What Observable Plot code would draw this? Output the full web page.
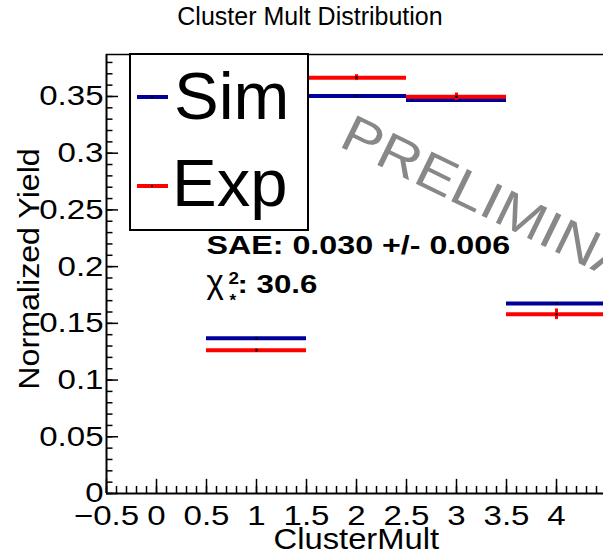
<!DOCTYPE html>
<html><head><meta charset="utf-8">
<script src="https://cdn.jsdelivr.net/npm/d3@7"></script>
<script src="https://cdn.jsdelivr.net/npm/@observablehq/plot@0.6"></script>
<style>
html,body{margin:0;padding:0;background:#fff;}
#wrap{position:relative;width:603px;height:554px;overflow:hidden;background:#fff;}
#title{height:40px;box-sizing:border-box;padding-top:4px;padding-left:17px;font:25px/25px "Liberation Sans",Arial,sans-serif;text-align:center;color:#000;white-space:nowrap;}
#chart svg{display:block;}
#legend{position:absolute;left:129px;top:53px;width:180px;height:178px;box-sizing:border-box;border:2px solid #000;background:#fff;}
.leg-line{position:absolute;left:137px;width:31px;height:4px;}
.leg-dot{position:absolute;left:151px;width:2px;height:2px;background:#000;}
.leg-text{position:absolute;font:67px/67px "Liberation Sans",Arial,sans-serif;color:#000;white-space:nowrap;}
</style>
</head><body>
<div id="wrap">
  <div id="title"></div>
  <div id="chart"></div>
  <div id="legend"></div>
  <div class="leg-line" id="leg-sim-line" style="top:95px"></div>
  <div class="leg-dot" style="top:96px"></div>
  <div class="leg-text" id="leg-sim-text" style="left:174px;top:62px"></div>
  <div class="leg-line" id="leg-exp-line" style="top:184px"></div>
  <div class="leg-dot" style="top:185px"></div>
  <div class="leg-text" id="leg-exp-text" style="left:172px;top:149px"></div>
</div>
<script>
// ---- data ----
const chartTitle = "Cluster Mult Distribution";
const xTitle = "ClusterMult";
const yTitle = "Normalized Yield";
const seriesNames = ["Sim", "Exp"];
const seriesColors = ["#000099", "#ff0000"];
const binCenter = [1, 2, 3, 4];
const binLow = [0.5, 1.5, 2.5, 3.5];
const binHigh = [1.5, 2.5, 3.5, 4.5];
const simYield = [0.1368, 0.3504, 0.3469, 0.1674];
const simError = [0.0008, 0.0008, 0.0008, 0.0008];
const expYield = [0.1262, 0.3666, 0.3498, 0.1580];
const expError = [0.0015, 0.0026, 0.0032, 0.0047];
const yTickValues = [0, 0.05, 0.1, 0.15, 0.2, 0.25, 0.3, 0.35];
const yTickLabels = ["0", "0.05", "0.1", "0.15", "0.2", "0.25", "0.3", "0.35"];
const xTickValues = [-0.5, 0, 0.5, 1, 1.5, 2, 2.5, 3, 3.5, 4];
const xTickLabels = ["\u22120.5", "0", "0.5", "1", "1.5", "2", "2.5", "3", "3.5", "4"];
const saeText = "SAE: 0.030 +/- 0.006";
const chiSymbol = "\u03c7";
const chiSup = "2";
const chiSub = "*";
const chiValue = ": 30.6";
const watermark = "PRELIMINARY";

const xDomain = [-0.5, 4.47];
const yDomain = [0, 0.387];

const rows = binCenter.map((c, i) => ({
  c, lo: binLow[i], hi: binHigh[i],
  sim: simYield[i], simErr: simError[i],
  exp: expYield[i], expErr: expError[i]
}));
const xMinor = d3.range(-5, 45).map(i => i / 10);
const yMinor = d3.range(0, 39).map(i => i / 100);

const FONT = '"Liberation Sans", Arial, sans-serif';
const BLUE = seriesColors[0], RED = seriesColors[1];

const chart = Plot.plot({
  width: 603,
  height: 514,
  marginLeft: 106,
  marginRight: 0,
  marginTop: 14,
  marginBottom: 61,
  style: {fontFamily: FONT, fontSize: "28px", color: "#000", background: "#fff"},
  x: {type: "linear", domain: xDomain},
  y: {type: "linear", domain: yDomain},
  marks: [
    // Sim histogram
    Plot.ruleY(rows, {y: "sim", x1: "lo", x2: "hi", stroke: BLUE, strokeWidth: 4, clip: true}),
    Plot.ruleX(rows, {x: "c", y1: d => d.sim - d.simErr, y2: d => d.sim + d.simErr, stroke: BLUE, strokeWidth: 3}),
    Plot.dot(rows, {x: "c", y: "sim", r: 1.3, fill: "#000", stroke: null}),
    // Exp histogram
    Plot.ruleY(rows, {y: "exp", x1: "lo", x2: "hi", stroke: RED, strokeWidth: 4, clip: true}),
    Plot.ruleX(rows, {x: "c", y1: d => d.exp - d.expErr, y2: d => d.exp + d.expErr, stroke: RED, strokeWidth: 3}),
    Plot.dot(rows, {x: "c", y: "exp", r: 1.3, fill: "#000", stroke: null}),
    // frame lines
    Plot.ruleX([xDomain[0]], {stroke: "#000", strokeWidth: 2}),
    Plot.ruleY([0], {stroke: "#000", strokeWidth: 2}),
    Plot.ruleY([yDomain[1]], {stroke: "#000", strokeWidth: 1.5}),
    // y ticks (inward)
    Plot.ruleY(yMinor, {y: d => d, x1: xDomain[0], x2: xDomain[0] + 0.065, stroke: "#000", strokeWidth: 1.5}),
    Plot.ruleY(yTickValues, {y: d => d, x1: xDomain[0], x2: xDomain[0] + 0.12, stroke: "#000", strokeWidth: 1.5}),
    // x ticks (inward)
    Plot.ruleX(xMinor, {x: d => d, y1: 0, y2: 0.0062, stroke: "#000", strokeWidth: 1.5}),
    Plot.ruleX(xTickValues, {x: d => d, y1: 0, y2: 0.0125, stroke: "#000", strokeWidth: 1.5}),
    // tick labels
    Plot.axisY({ticks: yTickValues, tickFormat: (d) => yTickLabels[yTickValues.indexOf(d)], tickSize: 0, tickPadding: 3, fontSize: 28, label: null}),
    Plot.axisX({ticks: xTickValues, tickFormat: (d) => xTickLabels[xTickValues.indexOf(d)], tickSize: 0, tickPadding: 12, fontSize: 28, label: null}),
    // axis titles
    Plot.text([xTitle], {text: d => d, frameAnchor: "bottom-left", dx: 167, dy: 55, textAnchor: "start", lineAnchor: "bottom", fontSize: 29, fill: "#000"}),
    Plot.text([yTitle], {text: d => d, frameAnchor: "left", dx: -68, dy: -5, rotate: -90, textAnchor: "middle", lineAnchor: "bottom", fontSize: 29, fill: "#000"}),
    // annotations
    Plot.text([saeText], {text: d => d, frameAnchor: "top-left", dx: 100, dy: 199, textAnchor: "start", lineAnchor: "bottom", fontSize: 26, fontWeight: "bold", fill: "#000"}),
    Plot.text([chiSymbol], {text: d => d, frameAnchor: "top-left", dx: 100, dy: 238, textAnchor: "start", lineAnchor: "bottom", fontSize: 33, fill: "#000"}),
    Plot.text([chiSup], {text: d => d, frameAnchor: "top-left", dx: 122, dy: 229, textAnchor: "start", lineAnchor: "bottom", fontSize: 16, fontWeight: "bold", fill: "#000"}),
    Plot.text([chiSub], {text: d => d, frameAnchor: "top-left", dx: 123, dy: 251, textAnchor: "start", lineAnchor: "bottom", fontSize: 17, fontWeight: "bold", fill: "#000"}),
    Plot.text([chiValue], {text: d => d, frameAnchor: "top-left", dx: 131, dy: 238, textAnchor: "start", lineAnchor: "bottom", fontSize: 26, fontWeight: "bold", fill: "#000"}),
    // watermark
    Plot.text([watermark], {text: d => d, frameAnchor: "top-left", dx: 231, dy: 91, rotate: 26, textAnchor: "start", lineAnchor: "bottom", fontSize: 52, fill: "#888888"})
  ]
});
// horizontal stretch of glyphs to mimic the wider text rendering of the original
const stretchByText = new Map([
  [xTitle, 1.13], [yTitle, 1.11], [saeText, 1.24], [chiValue, 1.2], [watermark, 1.14]
]);
const tickTexts = new Set([...yTickLabels, ...xTickLabels]);
d3.select(chart).selectAll("text").each(function() {
  const t = this.textContent;
  let s = stretchByText.get(t);
  if (!s && tickTexts.has(t)) s = 1.18;
  if (!s) return;
  const tr = this.getAttribute("transform");
  if (tr && /translate/.test(tr)) {
    this.setAttribute("transform", tr + ` scale(${s},1)`);
  } else {
    const x = +(this.getAttribute("x") || 0), y = +(this.getAttribute("y") || 0);
    this.removeAttribute("x"); this.removeAttribute("y");
    this.setAttribute("transform", `translate(${x},${y})${tr ? " " + tr : ""} scale(${s},1)`);
  }
});
document.getElementById("chart").appendChild(chart);
document.getElementById("title").textContent = chartTitle;
document.getElementById("leg-sim-line").style.background = BLUE;
document.getElementById("leg-exp-line").style.background = RED;
document.getElementById("leg-sim-text").textContent = seriesNames[0];
document.getElementById("leg-exp-text").textContent = seriesNames[1];
</script>
</body></html>
